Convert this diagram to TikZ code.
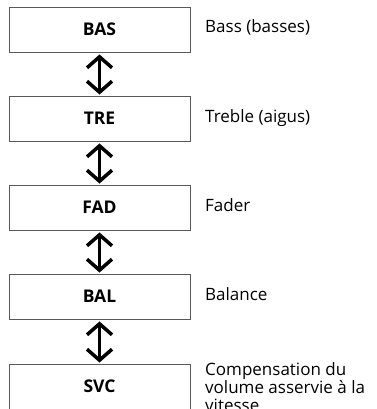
\documentclass[tikz,border=0pt]{standalone}
\usepackage{fontspec}
\setmainfont{Open Sans}
\usetikzlibrary{arrows.meta}
\begin{document}
\begin{tikzpicture}[x=1pt,y=-1pt,
  box/.style={draw=black!65, line width=0.9pt, minimum width=181pt, minimum height=45pt,
    inner sep=0pt, font=\fontsize{17.5}{20}\selectfont\bfseries},
  lbl/.style={anchor=base west, inner sep=0pt, align=left, font=\fontsize{17}{18}\selectfont},
  arr/.style={line width=3.5pt, {Straight Barb[length=11pt,width=25pt,line width=3.5pt]}-{Straight Barb[length=11pt,width=25pt,line width=3.5pt]}}]
\clip (0,0) rectangle (376,409);
\fill[white] (0,0) rectangle (376,409);
\node[box] (bas) at (99.5,29.5) {BAS};
\node[box] (tre) at (99.5,118.5) {TRE};
\node[box] (fad) at (99.5,207.5) {FAD};
\node[box] (bal) at (99.5,296.5) {BAL};
\node[box] (svc) at (99.5,386.5) {SVC};
\node[lbl] (lbas) at (205,33) {Bass (basses)};
\node[lbl] (ltre) at (205,122) {Treble (aigus)};
\node[lbl] (lfad) at (205,211) {Fader};
\node[lbl] (lbal) at (205,300) {Balance};
\node[lbl] (lsvc) at (205,411) {Compensation du\\volume asservie à la\\vitesse};
\foreach \a/\b in {bas/tre,tre/fad,fad/bal,bal/svc}
  \draw[arr] ([yshift=-2pt]\a.south) -- ([yshift=1pt]\b.north);
\end{tikzpicture}
\end{document}
